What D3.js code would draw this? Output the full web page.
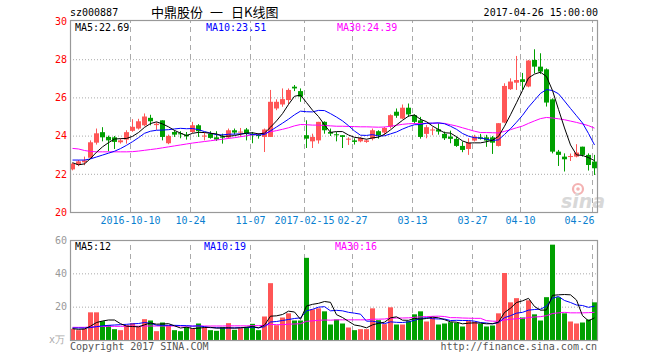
<!DOCTYPE html>
<html><head><meta charset="utf-8">
<script src="https://cdn.jsdelivr.net/npm/d3@7"></script>
<style>
body{margin:0;background:#fff;}
svg{display:block;}
text{font-family:"DejaVu Sans Mono",monospace;font-size:10px;}
</style></head><body>
<svg id="c" width="660" height="360"></svg>
<script>
const dates = [
"2016-09-19","2016-09-20","2016-09-21","2016-09-22","2016-09-23","2016-09-26","2016-09-27","2016-09-28","2016-09-29","2016-09-30",
"2016-10-10","2016-10-11","2016-10-12","2016-10-13","2016-10-14","2016-10-17","2016-10-18","2016-10-19","2016-10-20","2016-10-21",
"2016-10-24","2016-10-25","2016-10-26","2016-10-27","2016-10-28","2016-10-31","2016-11-01","2016-11-02","2016-11-03","2016-11-04",
"2016-11-07","2016-11-08","2016-11-09","2016-11-10","2016-11-11","2016-11-14","2016-11-15","2016-11-16","2016-11-17",
"2017-02-15","2017-02-16","2017-02-17","2017-02-20","2017-02-21","2017-02-22","2017-02-23","2017-02-24",
"2017-02-27","2017-02-28","2017-03-01","2017-03-02","2017-03-03","2017-03-06","2017-03-07","2017-03-08","2017-03-09","2017-03-10",
"2017-03-13","2017-03-14","2017-03-15","2017-03-16","2017-03-17","2017-03-20","2017-03-21","2017-03-22","2017-03-23","2017-03-24",
"2017-03-27","2017-03-28","2017-03-29","2017-03-30","2017-03-31","2017-04-05","2017-04-06","2017-04-07",
"2017-04-10","2017-04-11","2017-04-12","2017-04-13","2017-04-14","2017-04-17","2017-04-18","2017-04-19","2017-04-20","2017-04-21","2017-04-24","2017-04-25","2017-04-26"];

const opens = [22.23,22.47,22.60,22.84,23.63,24.18,23.93,23.91,23.65,23.79,
24.25,24.37,24.54,24.93,24.55,24.80,23.60,24.19,24.12,24.05,
24.19,24.54,23.97,24.09,23.91,23.96,23.90,24.28,24.18,24.32,
24.10,24.05,23.93,23.93,25.42,25.63,25.86,26.56,26.33,24.02,
23.70,23.75,24.72,24.19,24.07,24.02,23.82,23.75,23.70,23.67,
23.84,24.23,24.16,24.46,25.25,24.89,25.46,25.07,24.80,24.09,
24.28,24.33,24.09,23.95,23.83,23.46,23.30,23.74,23.91,23.91,
23.91,23.46,24.68,26.43,26.77,26.95,26.57,27.96,27.61,27.47,
25.90,23.16,22.90,22.88,22.90,23.42,22.99,22.64];
const closes = [22.53,22.65,22.70,23.65,24.12,23.91,23.75,23.67,23.75,24.18,
24.46,24.75,25.00,24.75,24.62,23.93,23.98,24.05,24.07,23.96,
24.54,24.23,24.00,23.88,23.79,23.89,24.28,24.16,24.21,24.10,
24.02,23.98,24.32,25.77,25.77,25.91,26.39,26.47,26.04,23.84,
23.93,24.72,24.28,24.10,24.02,23.93,23.84,23.67,23.88,23.75,
24.28,24.02,24.40,25.07,25.04,25.46,25.11,24.72,23.93,24.44,
24.32,24.21,23.86,23.83,23.46,23.25,23.63,23.95,23.83,23.74,
23.63,24.65,26.60,26.83,26.91,26.81,27.93,27.61,27.35,25.73,
23.16,22.99,22.76,22.93,23.11,22.99,22.46,22.29];
const highs = [22.58,22.72,22.90,23.75,24.37,24.44,24.00,23.98,23.85,24.28,
24.86,24.88,25.16,25.09,24.70,24.80,24.05,24.28,24.23,24.19,
24.72,24.60,24.16,24.23,24.23,24.10,24.37,24.37,24.40,24.40,
24.19,24.12,24.37,26.39,25.90,26.47,26.47,26.65,26.47,24.80,
24.10,24.72,24.75,24.37,24.19,24.02,23.91,23.86,23.93,23.79,
24.37,24.28,24.46,25.11,25.42,25.63,25.68,25.11,24.98,24.56,
24.44,24.65,24.21,24.26,23.95,23.69,23.86,24.04,24.09,24.04,
23.98,24.65,26.74,27.00,28.17,27.28,27.96,28.52,28.31,27.52,
25.95,23.25,23.07,23.06,23.55,23.42,23.07,22.99];
const lows = [22.18,22.40,22.45,22.78,23.53,23.70,23.18,23.30,23.58,23.58,
24.20,24.32,24.49,24.54,24.30,23.75,23.55,23.93,23.86,23.79,
24.14,23.93,23.75,23.84,23.72,23.58,23.84,24.05,23.93,23.75,
23.60,23.84,23.14,23.93,25.33,25.51,25.63,26.33,25.77,23.35,
23.35,23.58,24.10,23.98,23.70,23.35,23.51,23.53,23.65,23.62,
23.75,23.84,24.02,24.37,24.93,24.86,24.98,24.63,23.84,23.86,
24.02,24.05,23.77,23.60,23.41,23.13,22.99,23.69,23.79,23.41,
23.04,23.43,24.65,26.39,26.39,26.39,26.53,27.26,27.23,25.52,
23.07,22.41,22.12,22.67,22.86,22.90,22.17,21.94];

const ma5 = [22.58,22.47,22.52,22.80,23.13,23.41,23.63,23.82,23.84,23.85,
23.96,24.16,24.43,24.63,24.72,24.61,24.46,24.27,24.13,24.00,
24.12,24.17,24.16,24.12,24.09,23.96,23.97,24.00,24.07,24.13,
24.15,24.09,24.13,24.44,24.77,25.15,25.63,26.06,26.12,25.73,
25.33,25.00,24.56,24.17,24.21,24.21,24.03,23.91,23.87,23.81,
23.88,23.92,24.07,24.30,24.56,24.80,25.02,25.08,24.85,24.73,
24.50,24.32,24.15,24.13,23.94,23.72,23.61,23.62,23.62,23.68,
23.76,23.96,24.49,25.09,25.72,26.36,27.02,27.22,27.32,27.09,
26.36,25.37,24.40,23.51,22.99,22.96,22.85,22.69];
const ma10 = [22.72,22.72,22.72,22.78,22.88,22.98,23.08,23.18,23.32,23.49,
23.68,23.89,24.12,24.23,24.28,24.29,24.31,24.35,24.38,24.36,
24.37,24.31,24.21,24.13,24.04,24.04,24.07,24.08,24.09,24.11,
24.06,24.03,24.06,24.25,24.45,24.65,24.86,25.09,25.28,25.25,
25.24,25.32,25.31,25.15,24.97,24.77,24.52,24.24,24.02,24.01,
24.05,23.98,23.99,24.09,24.19,24.34,24.47,24.57,24.58,24.65,
24.65,24.67,24.62,24.49,24.33,24.11,23.97,23.89,23.88,23.81,
23.74,23.78,24.06,24.36,24.70,25.06,25.49,25.85,26.21,26.41,
26.36,26.19,25.81,25.42,25.04,24.66,24.11,23.51];
const ma30 = [23.33,23.30,23.22,23.17,23.15,23.15,23.15,23.15,23.15,23.15,
23.16,23.19,23.23,23.27,23.31,23.36,23.41,23.46,23.51,23.56,
23.61,23.65,23.69,23.73,23.77,23.81,23.85,23.89,23.94,23.99,
24.04,24.08,24.13,24.20,24.26,24.33,24.41,24.51,24.58,24.57,
24.55,24.55,24.53,24.51,24.49,24.49,24.48,24.47,24.46,24.46,
24.45,24.44,24.45,24.49,24.54,24.59,24.62,24.63,24.63,24.64,
24.65,24.65,24.64,24.57,24.50,24.41,24.32,24.23,24.16,24.16,
24.15,24.14,24.22,24.31,24.41,24.50,24.64,24.77,24.89,24.95,
24.92,24.88,24.83,24.76,24.69,24.61,24.52,24.39];

const volumes = [6.7,5.9,6.7,16.6,16.6,11.3,8.9,6.5,5.9,8.9,
10.1,7.9,12.5,11.7,5.3,10.5,8.9,5.9,5.3,7.7,
6.9,9.9,7.5,5.9,5.5,7.7,10.1,6.1,7.1,7.7,
9.7,5.9,14.1,34.1,8.9,13.5,16.0,11.7,11.7,49.3,
18.4,19.0,17.2,9.3,12.3,9.9,7.5,5.9,6.5,6.5,
19.0,11.9,9.5,19.6,9.3,9.3,11.3,15.4,17.2,11.1,
13.5,9.3,9.9,10.7,10.3,8.1,11.5,10.9,9.7,8.1,
8.7,16.0,40.2,22.6,25.1,13.5,23.8,15.4,11.7,25.7,
57.2,25.7,16.0,11.1,9.9,10.5,12.3,22.6];
const vma5 = [6.8,6.4,6.6,8.3,10.5,11.4,12.0,12.0,9.8,8.3,
8.1,7.9,9.1,10.2,9.5,9.6,9.8,8.5,7.2,7.7,
6.9,7.1,7.5,7.6,7.1,7.3,7.3,7.1,7.3,7.7,
8.1,7.3,8.9,14.3,14.5,15.3,17.3,16.8,12.4,20.4,
21.4,22.0,23.1,22.6,15.2,13.5,11.2,9.0,8.4,7.3,
9.1,10.0,10.7,13.3,13.9,11.9,11.8,13.0,12.5,12.9,
13.7,13.3,12.2,10.9,10.7,9.7,10.1,10.3,10.1,9.7,
9.8,10.7,16.5,19.1,22.5,23.5,25.0,20.1,17.9,18.0,
26.8,27.1,27.3,27.1,24.0,14.6,11.5,13.3];
const vma10 = [7.2,7.2,7.2,7.5,8.0,8.5,8.8,9.0,9.2,9.4,
9.7,9.9,10.5,10.0,8.9,8.8,8.8,8.8,8.7,8.6,
8.3,8.5,8.0,7.4,7.4,7.1,7.2,7.3,7.4,7.4,
7.7,7.3,8.0,10.8,11.1,11.7,12.3,12.9,13.3,17.5,
18.4,19.7,20.0,17.5,17.8,17.5,16.6,16.1,15.5,11.3,
11.3,10.6,9.8,10.9,10.6,10.5,10.9,11.8,12.9,13.4,
12.8,12.6,12.6,11.7,11.8,11.7,11.7,11.3,10.5,10.2,
9.7,10.4,13.4,14.6,16.1,16.6,17.9,18.3,18.5,20.3,
25.1,26.1,23.7,22.5,21.0,20.7,19.6,20.3];
const vma30 = [7.6,7.6,7.6,7.8,8.0,8.1,8.2,8.2,8.2,8.3,
8.3,8.3,8.4,8.4,8.4,8.4,8.4,8.4,8.4,8.4,
8.4,8.4,8.4,8.4,8.4,8.4,8.5,8.5,8.5,8.5,
8.6,8.6,8.8,9.4,9.2,9.2,9.5,9.6,9.8,11.2,
11.5,11.8,12.0,11.9,12.1,12.1,12.1,12.1,12.1,12.1,
12.5,12.5,12.6,13.1,13.2,13.2,13.3,13.6,13.9,14.0,
14.2,14.3,14.1,13.4,13.4,13.2,13.1,13.0,13.0,11.6,
11.3,11.2,12.0,12.4,12.8,12.9,13.5,13.8,14.0,14.6,
15.9,16.3,16.6,16.3,16.3,16.3,16.4,16.6];

const tickDates = ["2016-10-10","2016-10-24","2016-11-07","2017-02-15","2017-02-27","2017-03-13","2017-03-27","2017-04-10","2017-04-26"];
const tickLabels = ["2016-10-10","10-24","11-07","2017-02-15","02-27","03-13","03-27","04-10","04-26"];
const priceTicks = [20,22,24,26,28,30];
const volTicks = [20,40,60];

const RED = "#ff5656", GREEN = "#00a000";
const svg = d3.select("#c");
const L = 70, R = 597, PT = 21, PB = 212, VT = 240, VB = 340;

const x = d3.scaleBand().domain(dates).range([69.5, 597.5]).padding(0);
const cx = d => x(d) + x.bandwidth() / 2;
const y = d3.scaleLinear().domain([20, 30]).range([PB, PT]);
const yv = d3.scaleLinear().domain([0, 60]).range([VB, VT]);

// horizontal dotted grids
svg.append("g").attr("transform", `translate(${L},0)`)
  .call(d3.axisLeft(y).tickValues([22,24,26,28]).tickSize(-(R - L)).tickFormat(""))
  .call(g => g.select(".domain").remove())
  .call(g => g.selectAll("line").attr("stroke", "#aaa").attr("stroke-dasharray", "1,2"));
svg.append("g").attr("transform", `translate(${L},0)`)
  .call(d3.axisLeft(yv).tickValues([20,40]).tickSize(-(R - L)).tickFormat(""))
  .call(g => g.select(".domain").remove())
  .call(g => g.selectAll("line").attr("stroke", "#aaa").attr("stroke-dasharray", "1,2"));

// vertical dashed grids + date labels
const xAxis = d3.axisBottom(x).tickValues(tickDates).tickSize(-(PB - PT))
  .tickPadding(5).tickFormat((d, i) => tickLabels[i]);
svg.append("g").attr("transform", `translate(-2,${PB})`).call(xAxis)
  .call(g => g.select(".domain").remove())
  .call(g => g.selectAll("line").attr("stroke", "#aaa").attr("stroke-dasharray", "5,4"))
  .call(g => g.selectAll("text").attr("fill", "#0a7fd0")
     .style("font-family", '"DejaVu Sans Mono",monospace').style("font-size", "10px"))
  .call(g => g.selectAll(".tick").filter((d, i) => i === tickDates.length - 1)
     .select("text").attr("text-anchor", "end").attr("x", 2));
svg.append("g").attr("transform", `translate(-2,${VB})`)
  .call(d3.axisBottom(x).tickValues(tickDates).tickSize(-(VB - VT)).tickFormat(""))
  .call(g => g.select(".domain").remove())
  .call(g => g.selectAll("line").attr("stroke", "#aaa").attr("stroke-dasharray", "5,4"));

// price axis labels
svg.append("g").attr("transform", `translate(${L - 3},0)`)
  .call(d3.axisLeft(y).tickValues(priceTicks).tickSize(0).tickPadding(0).tickFormat(d3.format("d")))
  .call(g => g.select(".domain").remove())
  .call(g => g.selectAll("text").attr("fill", "#ff0000")
     .style("font-family", '"DejaVu Sans Mono",monospace').style("font-size", "10px"));
// volume axis labels
svg.append("g").attr("transform", `translate(${L - 3},0)`)
  .call(d3.axisLeft(yv).tickValues(volTicks).tickSize(0).tickPadding(0).tickFormat(d3.format("d")))
  .call(g => g.select(".domain").remove())
  .call(g => g.selectAll("text").attr("fill", "#999")
     .style("font-family", '"DejaVu Sans Mono",monospace').style("font-size", "10px"));
svg.append("text").attr("x", L - 5).attr("y", VB + 3).attr("text-anchor", "end")
  .attr("fill", "#aaa").text("x万");

// watermark
const wm = svg.append("g").attr("opacity", 0.8);
wm.append("circle").attr("cx", 578).attr("cy", 189).attr("r", 5).attr("fill", "none")
  .attr("stroke", "#f2a0a0").attr("stroke-width", 2.2);
wm.append("circle").attr("cx", 578).attr("cy", 189).attr("r", 1.8).attr("fill", "#f2a0a0");
wm.append("text").attr("x", 561).attr("y", 208).text("sina")
  .style("font-family", '"DejaVu Sans",sans-serif').style("font-size", "19px")
  .style("font-style", "italic").style("font-weight", "bold").attr("fill", "#cfcfcf");

// candles
const cg = svg.append("g");
dates.forEach((d, i) => {
  const o = opens[i], c = closes[i], up = c >= o;
  const col = up ? RED : GREEN;
  cg.append("line").attr("x1", cx(d)).attr("x2", cx(d))
    .attr("y1", y(highs[i])).attr("y2", y(lows[i])).attr("stroke", col).attr("stroke-width", 1);
  const top = y(Math.max(o, c)), h = Math.max(1, Math.abs(y(o) - y(c)));
  cg.append("rect").attr("x", x(d) + 0.5).attr("width", 5).attr("y", top).attr("height", h).attr("fill", col);
});

// volume bars
svg.append("g").selectAll("rect").data(volumes).join("rect")
  .attr("x", (v, i) => x(dates[i]) + 0.5).attr("width", 5)
  .attr("y", v => yv(v)).attr("height", v => VB - yv(v))
  .attr("fill", (v, i) => closes[i] >= opens[i] ? RED : GREEN);

// MA lines
const pl = d3.line().x((v, i) => cx(dates[i])).y(v => y(v));
const vl = d3.line().x((v, i) => cx(dates[i])).y(v => yv(v));
[[ma30, "#ff00ff"], [ma10, "#0000ff"], [ma5, "#000000"]].forEach(([arr, col]) =>
  svg.append("path").attr("d", pl(arr)).attr("fill", "none").attr("stroke", col).attr("stroke-width", 1));
[[vma30, "#ff00ff"], [vma10, "#0000ff"], [vma5, "#000000"]].forEach(([arr, col]) =>
  svg.append("path").attr("d", vl(arr)).attr("fill", "none").attr("stroke", col).attr("stroke-width", 1));

// panel borders
svg.append("rect").attr("x", L + 0.5).attr("y", PT - 0.5).attr("width", R - L).attr("height", PB - PT + 1)
  .attr("fill", "none").attr("stroke", "#999").attr("stroke-width", 1.2);
svg.append("rect").attr("x", L + 0.5).attr("y", VT + 0.5).attr("width", R - L).attr("height", VB - VT)
  .attr("fill", "none").attr("stroke", "#999").attr("stroke-width", 1.2);

// header texts
svg.append("text").attr("x", 70).attr("y", 16).attr("fill", "#000").text("sz000887");
const title = svg.append("text").attr("y", 17).attr("fill", "#000")
  .style("font-family", '"Noto Sans CJK SC",sans-serif').style("font-size", "13px");
title.append("tspan").attr("x", 151).text("中鼎股份");
title.append("tspan").attr("x", 210).text("一");
title.append("tspan").attr("x", 231).text("日K线图");
svg.append("text").attr("x", 598).attr("y", 16).attr("text-anchor", "end").attr("fill", "#000")
  .text("2017-04-26 15:00:00");

// MA legends
const legP = [["MA5:22.69", 75, "#000"], ["MA10:23.51", 206, "#0000ff"], ["MA30:24.39", 337, "#ff00ff"]];
legP.forEach(([t, xx, col]) => svg.append("text").attr("x", xx).attr("y", 31).attr("fill", col).text(t));
const legV = [["MA5:12", 75, "#000"], ["MA10:19", 204, "#0000ff"], ["MA30:16", 335, "#ff00ff"]];
legV.forEach(([t, xx, col]) => svg.append("text").attr("x", xx).attr("y", 250).attr("fill", col).text(t));

// footer
svg.append("text").attr("x", 70).attr("y", 350).attr("fill", "#555").text("Copyright 2017 SINA.COM");
svg.append("text").attr("x", 597).attr("y", 350).attr("text-anchor", "end").attr("fill", "#555")
  .text("http://finance.sina.com.cn");
</script>
</body></html>
